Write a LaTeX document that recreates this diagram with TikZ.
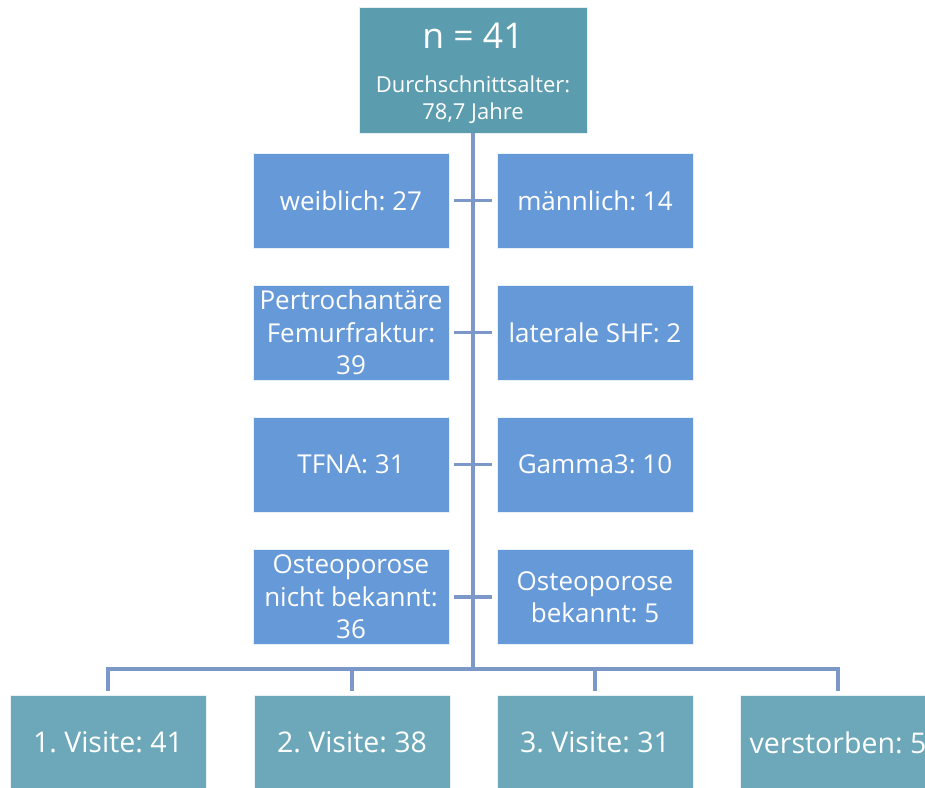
\documentclass[tikz,border=0pt]{standalone}
\usepackage{fontspec}
\setmainfont{Open Sans}
\frenchspacing
\definecolor{topc}{RGB}{91,157,175}
\definecolor{botc}{RGB}{108,168,185}
\definecolor{bluec}{RGB}{102,153,216}
\definecolor{linec}{RGB}{123,152,200}
\tikzset{
  box/.style={draw=white!85!bluec, line width=0.6pt, text=white, align=center, inner sep=0pt,
    minimum width=196pt, minimum height=95pt, font=\fontsize{26}{32.5}\selectfont},
  bluebox/.style={box, fill=bluec},
  visitbox/.style={box, fill=botc, draw=white!85!botc, font=\fontsize{28.5}{34}\selectfont},
  conn/.style={draw=linec, line width=3.5pt}
}
\begin{document}
\begin{tikzpicture}[x=1pt,y=-1pt]
\useasboundingbox (0,0) rectangle (925,787);
\clip (0,0) rectangle (925,787);
\node[box, fill=topc, draw=white!85!topc, minimum width=228pt, minimum height=126pt] (top) at (473,70) {};
\node[text=white, font=\fontsize{35.5}{40}\selectfont] (n) at (473,36) {n = 41};
\node[text=white, align=center, font=\fontsize{22}{27}\selectfont] (alter) at (473,100) {Durchschnittsalter:\\78,7 Jahre};
\node[bluebox] (w) at (351,200.5) {weiblich: 27};
\node[bluebox] (m) at (595,200.5) {männlich: 14};
\node[bluebox] (pf) at (351,332.5) {Pertrochantäre\\Femurfraktur:\\39};
\node[bluebox] (shf) at (595,332.5) {laterale SHF: 2};
\node[bluebox] (tfna) at (351,464.5) {TFNA: 31};
\node[bluebox] (g3) at (595,464.5) {Gamma3: 10};
\node[bluebox] (onb) at (351,597) {Osteoporose\\nicht bekannt:\\36};
\node[bluebox] (ob) at (595,597) {Osteoporose\\bekannt: 5};
\node[visitbox] (v1) at (108,742.5) {1. Visite: 41};
\node[visitbox] (v2) at (352,742.5) {2. Visite: 38};
\node[visitbox] (v3) at (595,742.5) {3. Visite: 31};
\node[visitbox] (v4) at (838,742.5) {verstorben: 5};
\coordinate (trunkend) at (473,669);
\coordinate (busL) at (108,669);
\coordinate (busR) at (838,669);
\draw[conn] (top.south) -- (trunkend);
\foreach \a/\b in {w/m, pf/shf, tfna/g3, onb/ob}{
  \draw[conn] ([xshift=5pt]\a.east) -- ([xshift=-5pt]\b.west);
}
\draw[conn] ([yshift=4pt]v1.north) -- (busL) -- (busR) -- ([yshift=4pt]v4.north);
\draw[conn] (v2.north |- trunkend) -- ([yshift=4pt]v2.north);
\draw[conn] (v3.north |- trunkend) -- ([yshift=4pt]v3.north);
\end{tikzpicture}
\end{document}
